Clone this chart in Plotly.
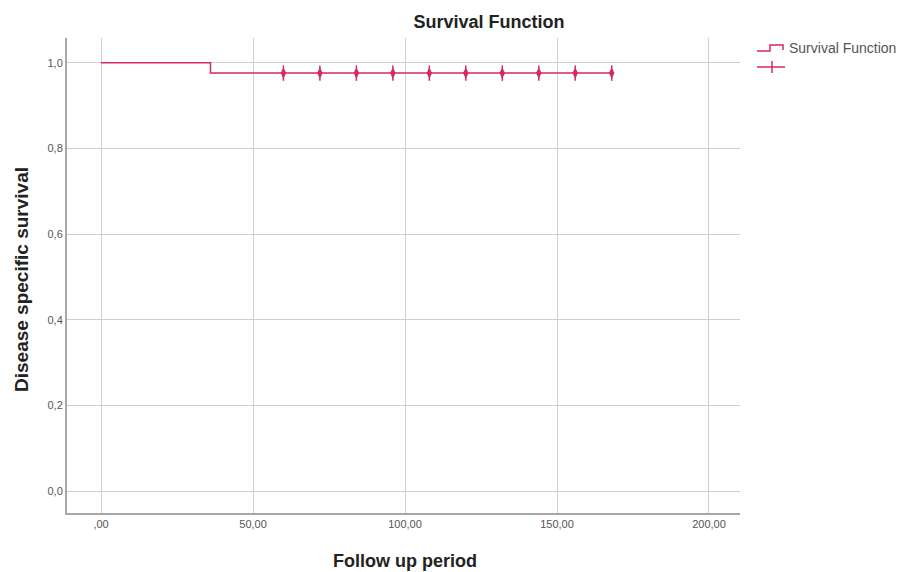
import plotly.graph_objects as go

# Data
step_time = [0, 36, 168]
step_surv = [1.0, 0.976, 0.976]
censor_time = [60, 72, 84, 96, 108, 120, 132, 144, 156, 168]
censor_surv = [0.976] * len(censor_time)

x_ticks = [0, 50, 100, 150, 200]
x_ticklabels = [",00", "50,00", "100,00", "150,00", "200,00"]
y_ticks = [0.0, 0.2, 0.4, 0.6, 0.8, 1.0]
y_ticklabels = ["0,0", "0,2", "0,4", "0,6", "0,8", "1,0"]

color = "#d42a62"
font_fam = "Liberation Sans, Arial, sans-serif"

OFF = 8  # page body margin
W, H = 906 - OFF, 572 - OFF
L, R, T, B = 67 - OFF, 740 - OFF, 38 - OFF, 513 - OFF

fig = go.Figure()
fig.add_trace(go.Scatter(x=step_time, y=step_surv, mode="lines", line_shape="hv",
                         line=dict(color=color, width=1.5), showlegend=False))
fig.add_trace(go.Scatter(x=censor_time, y=censor_surv, mode="markers",
                         marker=dict(symbol="diamond-tall", size=8, color=color,
                                     line=dict(width=0)), showlegend=False))
fig.add_trace(go.Scatter(x=censor_time, y=censor_surv, mode="markers",
                         marker=dict(symbol="line-ns", size=11, color=color,
                                     line=dict(width=1.5, color=color)), showlegend=False))

fig.update_layout(
    width=W, height=H,
    margin=dict(l=L, r=W - R, t=T, b=H - B, autoexpand=False),
    paper_bgcolor="white", plot_bgcolor="white",
    font=dict(family=font_fam, color="#333"),
    title=dict(text="<b>Survival Function</b>", x=(489 - OFF) / W, xanchor="center",
               y=1 - (22 - OFF) / H, yanchor="middle", font=dict(size=18, color="#222")),
    xaxis=dict(range=[-11.2, 210.2], tickvals=x_ticks, ticktext=x_ticklabels,
               showgrid=True, gridcolor="#cfcfcf", gridwidth=1,
               showline=True, linecolor="#a8a8a8", linewidth=2,
               zeroline=False, ticks="", tickfont=dict(size=11, color="#555"),
               automargin=False),
    yaxis=dict(range=[-0.051, 1.058], tickvals=y_ticks, ticktext=y_ticklabels,
               showgrid=True, gridcolor="#cfcfcf", gridwidth=1,
               showline=True, linecolor="#a8a8a8", linewidth=2,
               zeroline=False, ticks="", tickfont=dict(size=11, color="#555"),
               automargin=False),
)

def px(x):
    return (x - OFF - L) / (R - L)

def py(y):
    return (B - (y - OFF)) / (B - T)

# Axis titles (positions in page pixels)
fig.add_annotation(xref="paper", yref="paper", x=px(405), y=py(561), xanchor="center",
                   yanchor="middle", showarrow=False, text="<b>Follow up period</b>",
                   font=dict(size=18, color="#222", family=font_fam))
fig.add_annotation(xref="paper", yref="paper", x=px(21), y=py(280), xanchor="center",
                   yanchor="middle", showarrow=False, textangle=-90,
                   text="<b>Disease specific survival</b>",
                   font=dict(size=19, color="#222", family=font_fam))

# Legend (drawn manually to reproduce the step glyph)
lw = 1.5
fig.add_shape(type="path", xref="paper", yref="paper",
              path=f"M {px(757)},{py(51)} L {px(770)},{py(51)} L {px(770)},{py(45)} L {px(783)},{py(45)} L {px(783)},{py(50)}",
              line=dict(color=color, width=lw))
fig.add_shape(type="line", xref="paper", yref="paper",
              x0=px(757), x1=px(785), y0=py(67), y1=py(67), line=dict(color=color, width=lw))
fig.add_shape(type="line", xref="paper", yref="paper",
              x0=px(772), x1=px(772), y0=py(61), y1=py(73), line=dict(color=color, width=lw))
fig.add_annotation(xref="paper", yref="paper", x=px(787), y=py(48), xanchor="left",
                   yanchor="middle", showarrow=False, text="Survival Function",
                   font=dict(size=14, color="#555", family=font_fam))

fig.write_html("out.html")
